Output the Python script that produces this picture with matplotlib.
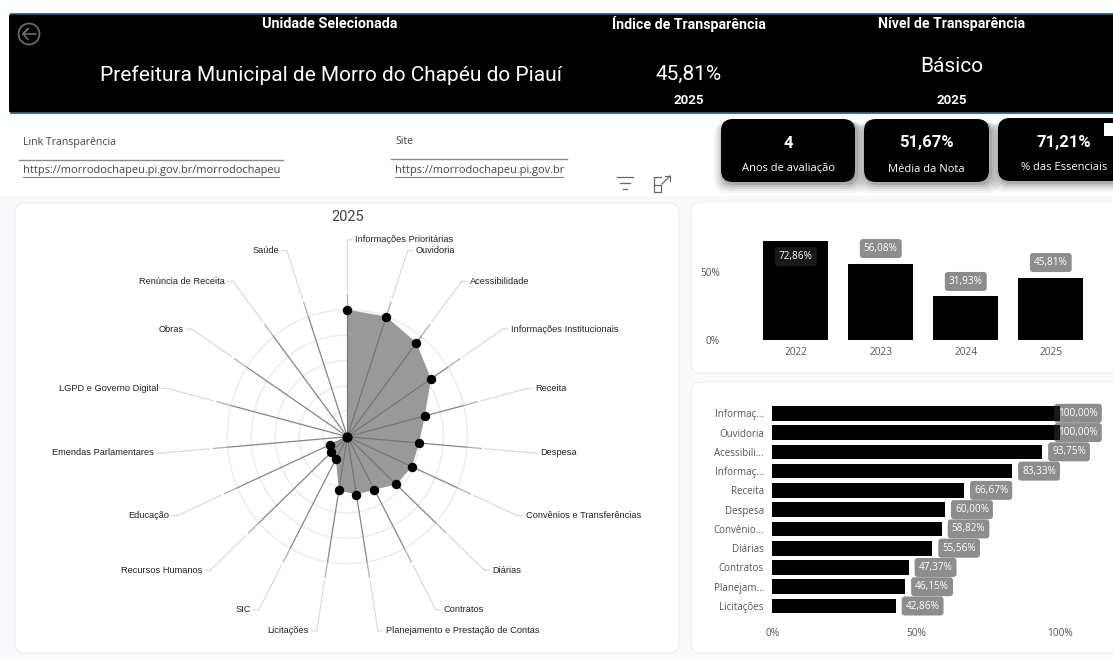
import numpy as np
import matplotlib
matplotlib.use('Agg')
import matplotlib.pyplot as plt
from matplotlib.patches import FancyBboxPatch, Rectangle, Circle

W, H = 1113, 659
NARROW = 'Roboto'
ARIAL = 'Liberation Sans'
SEGOE = 'Open Sans'

# ---------- data ----------
radar_categories = ['Informações Prioritárias', 'Ouvidoria', 'Acessibilidade', 'Informações Institucionais',
                    'Receita', 'Despesa', 'Convênios e Transferências', 'Diárias', 'Contratos',
                    'Planejamento e Prestação de Contas', 'Licitações', 'SIC', 'Recursos Humanos', 'Educação',
                    'Emendas Parlamentares', 'LGPD e Governo Digital', 'Obras', 'Renúncia de Receita', 'Saúde']
radar_values = [100, 100, 93.75, 83.33, 66.67, 60, 58.82, 55.56, 47.37, 46.15, 42.86,
                20, 18, 16, 0, 0, 0, 0, 0]
years = ['2022', '2023', '2024', '2025']
year_values = [72.86, 56.08, 31.93, 45.81]
hbar_labels = ['Informaç...', 'Ouvidoria', 'Acessibili...', 'Informaç...', 'Receita', 'Despesa',
               'Convênio...', 'Diárias', 'Contratos', 'Planejam...', 'Licitações']
hbar_values = [100, 100, 93.75, 83.33, 66.67, 60, 58.82, 55.56, 47.37, 46.15, 42.86]

def pct(v):
    return f'{v:.2f}%'.replace('.', ',')

fig = plt.figure(figsize=(W / 100, H / 100), dpi=100, facecolor='white')
bg = fig.add_axes([0, 0, 1, 1], zorder=0)
bg.set_xlim(0, W); bg.set_ylim(H, 0); bg.axis('off')

def rbox(x0, y0, x1, y1, r, fc, ec='none', lw=0, z=1, alpha=None):
    p = FancyBboxPatch((x0, y0), x1 - x0, y1 - y0, boxstyle=f'round,pad=0,rounding_size={r}',
                       fc=fc, ec=ec, lw=lw, zorder=z, alpha=alpha)
    bg.add_patch(p)

def txt(x, y, s, size, color='white', ha='center', font=NARROW, weight='normal', z=5, **kw):
    return bg.text(x, y, s, fontsize=size, color=color, ha=ha, va='center', family=font,
                   fontweight=weight, zorder=z, **kw)

# page background and cards
bg.add_patch(Rectangle((0, 196), W, H - 196, fc='#f9f9fb', ec='none', zorder=0))
rbox(15, 203, 679, 653, 10, 'white', '#f0f0f3', 1)
rbox(691, 202, W + 30, 373, 10, 'white', '#f0f0f3', 1)
rbox(691, 382, W + 30, 653, 10, 'white', '#f0f0f3', 1)

# header
rbox(9, 14, W + 30, 112.5, 2, 'black', z=2)
bg.plot([11, W], [14, 14], color='#1f5488', lw=1.2, zorder=3)
bg.plot([11, W], [112.5, 112.5], color='#1f5488', lw=1.2, zorder=3)
txt(330, 24, 'Unidade Selecionada', 10.4, weight='bold')
txt(330.5, 75, 'Prefeitura Municipal de Morro do Chapéu do Piauí', 15)
txt(689, 24, 'Índice de Transparência', 10.2, weight='bold')
txt(689, 74, '45,81%', 15)
txt(689, 101, '2025', 9.5, weight='bold')
txt(952, 24, 'Nível de Transparência', 10.2, weight='bold')
txt(952, 66, 'Básico', 15)
txt(952, 101, '2025', 9.5, weight='bold')
bg.add_patch(Circle((29, 34), 10.5, fc='none', ec='#6a6a6a', lw=1.3, zorder=5))
bg.plot([36, 23, 28, 23, 28], [34, 34, 28.5, 34, 39.5], color='#6a6a6a', lw=1.2, zorder=5)

# link block
txt(23, 143, 'Link Transparência', 7.6, '#444444', ha='left', font=SEGOE)
bg.plot([19, 283], [160, 160], color='#8a8a8a', lw=1)
txt(23, 170, 'https://morrodochapeu.pi.gov.br/morrodochapeu', 7.9, '#444444', ha='left', font=SEGOE)
bg.plot([23, 279], [176.5, 176.5], color='#777777', lw=.7)
txt(395, 142, 'Site', 7.6, '#444444', ha='left', font=SEGOE)
bg.plot([391, 567], [158.5, 158.5], color='#8a8a8a', lw=1)
txt(395, 170, 'https://morrodochapeu.pi.gov.br', 7.9, '#444444', ha='left', font=SEGOE)
bg.plot([395, 563], [176.5, 176.5], color='#777777', lw=.7)

# icons
for xa, xb, y in [(617, 633, 177), (620, 630, 183), (623, 627, 189)]:
    bg.plot([xa, xb], [y, y], color='#666666', lw=.9)
bg.plot([654, 654, 661, 661, 654], [185, 192, 192, 185, 185], color='#666666', lw=.9)
bg.plot([654, 654, 661], [185, 177, 177], color='#666666', lw=.9)
bg.plot([665, 670, 670], [176, 176, 181], color='#666666', lw=.9)
bg.plot([662, 670], [184, 176], color='#666666', lw=.9)

# KPI cards
cards = [(721, 855, 119, 182, '4', 'Anos de avaliação', 788, 143, 169, 172.5),
         (864, 989, 119, 182, '51,67%', 'Média da Nota', 926, 143, 169, 172.5),
         (998, W + 30, 118, 181, '71,21%', '% das Essenciais', 1064, 142, 167, 181)]
for x0, x1, y0, y1, big, small, cx, yb, ys, clip in cards:
    for g, a in [(9, .04), (7, .05), (5, .07), (3, .09), (1, .12)]:
        rbox(x0 - g + 2, y0 + 3, x1 + g + 2, y1 + g + 2, 12, 'black', z=2, alpha=a)
    rbox(x0, y0, x1, y1, 12, 'black', z=3)
    txt(cx, yb, big, 12, weight='bold')
    t = txt(cx, ys, small, 8, font=SEGOE)
    t.set_clip_path(Rectangle((x0, y0), x1 - x0, clip - y0, transform=bg.transData))
    t.set_clip_on(True)
bg.add_patch(Rectangle((1104, 123), 12, 13, fc='white', ec='none', zorder=6))

txt(348, 217, '2025', 10.5, '#444444')

# ---------- radar ----------
cx, cy, rx, ry, k = 347.3, 436.7, 120, 127, 1.6
ax = fig.add_axes([(cx - rx * k) / W, 1 - (cy + ry * k) / H, 2 * rx * k / W, 2 * ry * k / H],
                  projection='polar', zorder=2)
ax.set_aspect('auto')
ax.patch.set_alpha(0)
ax.set_theta_zero_location('N')
ax.set_theta_direction(-1)
ax.set_rlim(0, 100 * k)
ax.set_rticks([20, 40, 60, 80, 100])
ax.set_yticklabels([])
ax.set_xticks([])
ax.spines['polar'].set_visible(False)
ax.grid(True, color='#ebebeb', lw=1)
theta = np.arange(len(radar_values)) * 2 * np.pi / len(radar_values)
ax.fill(np.r_[theta, theta[0]], np.r_[radar_values, radar_values[0]], color='#999999', lw=0, zorder=2)
for th, lab in zip(theta, radar_categories):
    ax.plot([th, th], [0, 100], color='#707070', lw=.9, alpha=.85, zorder=3)
    ax.plot([th, th], [100, 112], color='#b0b0b0', lw=.9, zorder=3)
    ax.plot([th, th], [115, 155], color='#d8d8d8', lw=.8, zorder=3)
    right = th < np.pi - 1e-6
    ax.annotate(lab, xy=(th, 155), xytext=(8 if right else -8, 0), textcoords='offset pixels',
                ha='left' if right else 'right', va='center', fontsize=6.7, family=ARIAL, color='#222222',
                annotation_clip=False,
                arrowprops=dict(arrowstyle='-', color='#d8d8d8', lw=.8, shrinkA=0, shrinkB=0))
ax.plot(theta, radar_values, ls='none', marker='o', ms=6.8, color='black', mew=0, zorder=4, clip_on=False)

# ---------- annual bars ----------
step, x00, y0, ppu = 85, 795.8, 340, 1.363
ax2 = fig.add_axes([(x00 - step * .5) / W, 1 - y0 / H, step * 4 / W, 120 / H], zorder=2)
ax2.patch.set_alpha(0)
ax2.set_xlim(-.5, 3.5); ax2.set_ylim(0, 120 / ppu)
ax2.bar(range(4), year_values, width=.765, color='black', zorder=2)
for s in ax2.spines.values():
    s.set_visible(False)
ax2.set_xticks(range(4), years)
ax2.set_yticks([0, 50], ['0%', '50%'])
ax2.tick_params(axis='x', length=0, labelcolor='#555555', labelsize=7.3, pad=5)
ax2.tick_params(axis='y', length=0, labelcolor='#555555', labelsize=7.3, pad=24)
for l in ax2.get_xticklabels() + ax2.get_yticklabels():
    l.set_family(SEGOE)
for i, v in enumerate(year_values):
    off = -16 if v > 70 else 15
    ax2.annotate(pct(v), xy=(i, v), xytext=(0, off), textcoords='offset pixels', ha='center', va='center',
                 color='white', fontsize=7.2, family=SEGOE, zorder=3, annotation_clip=False,
                 bbox=dict(boxstyle='round,pad=0.4,rounding_size=.3', fc=(47/255, 47/255, 47/255, .55), ec='none'))

# ---------- horizontal bars ----------
x0, ppx, y_first, ystep = 772.3, 2.877, 413.3, 19.27
n = len(hbar_values)
top = y_first - ystep / 2
bot = top + ystep * n
ax3 = fig.add_axes([x0 / W, 1 - bot / H, 320 / W, (bot - top) / H], zorder=2)
ax3.patch.set_alpha(0)
ax3.set_xlim(0, 320 / ppx); ax3.set_ylim(n - .5, -.5)
ax3.barh(range(n), hbar_values, height=.76, color='black', zorder=2)
for s in ax3.spines.values():
    s.set_visible(False)
ax3.set_yticks(range(n), hbar_labels)
ax3.set_xticks([0, 50, 100], ['0%', '50%', '100%'])
ax3.tick_params(axis='y', length=0, labelcolor='#555555', labelsize=7, pad=6)
ax3.tick_params(axis='x', length=0, labelcolor='#555555', labelsize=7.3, pad=9)
for l in ax3.get_xticklabels() + ax3.get_yticklabels():
    l.set_family(SEGOE)
for i, v in enumerate(hbar_values):
    off = 18 if v >= 100 else 27
    ax3.annotate(pct(v), xy=(v, i), xytext=(off, 0), textcoords='offset pixels', ha='center', va='center',
                 color='white', fontsize=7.2, family=SEGOE, zorder=3, annotation_clip=False,
                 bbox=dict(boxstyle='round,pad=0.4,rounding_size=.3', fc=(47/255, 47/255, 47/255, .55), ec='none'))

fig.savefig('out.png', dpi=100, facecolor='white')
